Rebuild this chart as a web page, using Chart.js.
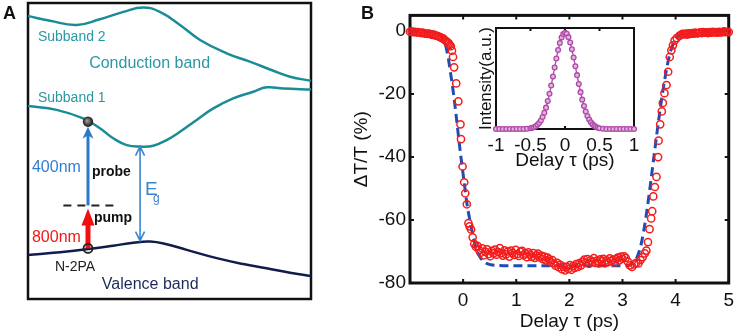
<!DOCTYPE html>
<html>
<head>
<meta charset="utf-8">
<script src="https://cdn.jsdelivr.net/npm/chart.js@4.4.1/dist/chart.umd.min.js"></script>
<style>
  html, body { margin: 0; padding: 0; background: #fff; }
  #wrap { position: relative; width: 740px; height: 335px; overflow: hidden; font-family: 'Liberation Sans', Arial, sans-serif; }
  canvas { position: absolute; }
  #band-chart { left: 0; top: 0; }
  #decay-chart { left: 330px; top: 0; }
  #pulse-chart { left: 470px; top: 20px; }
  .panel { position: absolute; font-weight: bold; font-size: 18px; color: #111; }
</style>
</head>
<body>
<div id="wrap">
  <canvas id="band-chart" width="330" height="335"></canvas>
  <canvas id="decay-chart" width="410" height="335"></canvas>
  <canvas id="pulse-chart" width="175" height="152"></canvas>
  <div class="panel" style="left:3px;top:3px">A</div>
  <div class="panel" style="left:361px;top:3px">B</div>
</div>
<script>
// ---- panel A : band diagram (arbitrary k / energy units 0..10)
const subband2X = [ 0, 0.78, 1.72, 2.54, 3.37, 4.07, 4.66, 5.37, 6.08, 7.02, 7.84, 8.67, 9.26, 10 ];
const subband2Y = [ 9.56, 9.4, 9.26, 9.45, 9.7, 9.85, 9.7, 9.26, 8.75, 8.3, 8.02, 7.71, 7.51, 7.37 ];
const subband1X = [ 0, 1.01, 1.95, 2.54, 3.01, 3.49, 3.96, 4.43, 4.9, 5.37, 5.96, 6.55, 7.25, 7.96, 8.43, 9.02, 10 ];
const subband1Y = [ 6.52, 6.39, 6.1, 5.77, 5.43, 5.2, 5.15, 5.18, 5.37, 5.65, 6.05, 6.44, 6.78, 7.0, 7.15, 7.11, 7.08 ];
const valenceX = [ 0, 1.13, 2.07, 3.01, 3.72, 4.31, 4.9, 5.61, 6.67, 7.61, 8.43, 9.26, 10 ];
const valenceY = [ 1.49, 1.58, 1.68, 1.8, 1.9, 1.94, 1.85, 1.66, 1.38, 1.18, 1.04, 0.89, 0.78 ];

// ---- panel B : transient transmission
const delayPs = [
  -1.00, -0.97, -0.94, -0.91, -0.88, -0.85, -0.82, -0.79, -0.76, -0.73,
  -0.70, -0.67, -0.64, -0.61, -0.58, -0.55, -0.52, -0.49, -0.46, -0.43,
  -0.40, -0.37, -0.34, -0.31, -0.29, -0.27, -0.25,
  -0.23, -0.21, -0.19, -0.17, -0.13, -0.09, -0.05, -0.04, -0.01, 0.02,
  0.04, 0.07, 0.10, 0.12, 0.15, 0.18, 0.21, 0.24,
  0.27, 0.30, 0.33, 0.36, 0.39, 0.42, 0.45, 0.48, 0.51, 0.54,
  0.57, 0.60, 0.63, 0.66, 0.69, 0.72, 0.75, 0.78, 0.81, 0.84,
  0.87, 0.90, 0.93, 0.96, 0.99, 1.02, 1.05, 1.08, 1.11, 1.14,
  1.17, 1.20, 1.23, 1.26, 1.29, 1.32, 1.35, 1.38, 1.41, 1.44,
  1.47, 1.50, 1.53, 1.56, 1.59, 1.62, 1.65, 1.68, 1.71, 1.74,
  1.77, 1.80, 1.83, 1.86, 1.89, 1.92, 1.95, 1.98, 2.01, 2.04,
  2.07, 2.10, 2.13, 2.16, 2.19, 2.22, 2.25, 2.28, 2.31, 2.34,
  2.37, 2.40, 2.43, 2.46, 2.49, 2.52, 2.55, 2.58, 2.61, 2.64,
  2.67, 2.70, 2.73, 2.76, 2.79, 2.82, 2.85, 2.88, 2.91, 2.94,
  2.97, 3.00, 3.03, 3.06,
  3.10, 3.14, 3.18, 3.22, 3.26, 3.30, 3.34, 3.38, 3.42, 3.45,
  3.48, 3.51, 3.54, 3.56, 3.58, 3.61, 3.64, 3.67, 3.68, 3.71,
  3.74, 3.76, 3.79, 3.83, 3.86, 3.89, 3.92, 3.95, 3.98, 4.02,
  4.07, 4.10, 4.13,
  4.16, 4.19, 4.22, 4.25, 4.28, 4.31, 4.34, 4.37, 4.40, 4.43,
  4.46, 4.49, 4.52, 4.55, 4.58, 4.61, 4.64, 4.67, 4.70, 4.73,
  4.76, 4.79, 4.82, 4.85, 4.88, 4.91, 4.94, 4.97, 5.00
];
const deltaTT = [
  -0.2, -0.1, -0.3, -0.2, -0.4, -0.3, -0.5, -0.6, -0.5, -0.7,
  -0.8, -0.9, -0.8, -1.0, -1.2, -1.1, -1.4, -1.5, -1.7, -1.9,
  -2.2, -2.4, -2.9, -3.3, -3.6, -3.9, -4.4,
  -4.8, -6.2, -8.2, -11.5, -16.6, -22.3, -29.6, -34.3, -43.0, -48.0,
  -51.5, -55.0, -61.0, -62.0, -63.0, -65.5, -67.6, -68.5,
  -68.2, -69.5, -70.4, -69.0, -71.2, -70.1, -69.3, -70.8, -71.5, -69.8,
  -70.6, -69.4, -71.0, -70.2, -68.9, -70.5, -71.3, -69.6, -70.9, -70.0,
  -71.6, -69.7, -70.4, -71.1, -69.5, -70.8, -71.4, -70.0, -69.8, -71.2,
  -70.6, -71.8, -70.3, -71.0, -71.7, -70.5, -72.0, -71.2, -70.7, -71.9,
  -71.3, -72.4, -71.6, -72.8, -71.9, -72.5, -73.4, -72.7, -73.8, -74.5,
  -73.6, -75.0, -74.2, -75.6, -74.8, -76.0, -74.9, -75.5, -74.3, -75.8,
  -74.6, -75.2, -74.0, -74.9, -73.7, -74.4, -73.2, -72.6, -73.5, -72.4,
  -73.9, -72.8, -73.3, -72.1, -73.6, -72.9, -73.8, -72.5, -73.1, -72.3,
  -73.7, -72.8, -73.4, -72.2, -73.0, -72.6, -73.5, -72.4, -71.9, -72.8,
  -71.6, -72.3, -71.5, -72.0,
  -73.2, -74.4, -74.9, -74.1, -73.6, -73.8, -72.7, -71.8, -70.6, -69.7,
  -67.0, -62.9, -59.5, -57.2, -52.5, -49.5, -46.3, -40.0, -34.8, -29.6,
  -25.5, -22.8, -19.7, -17.1, -12.9, -8.2, -6.1, -4.5, -3.0, -2.2,
  -1.5, -1.2, -0.9,
  -1.0, -0.8, -1.1, -0.7, -0.9, -0.6, -0.8, -0.5, -0.7, -0.6,
  -0.4, -0.6, -0.3, -0.5, -0.4, -0.6, -0.3, -0.5, -0.2, -0.4,
  -0.3, -0.5, -0.2, -0.4, -0.3, -0.1, -0.3, -0.2, -0.3
];
const fitX = [
  -1.0, -0.6, -0.45, -0.38, -0.33, -0.28, -0.23, -0.18, -0.13, -0.08,
  -0.03, 0.02, 0.07, 0.12, 0.17, 0.22, 0.28, 0.34, 0.42, 0.52,
  0.65, 1.0, 2.0, 3.0, 3.15, 3.22, 3.28, 3.34, 3.40, 3.46,
  3.52, 3.58, 3.64, 3.70, 3.76, 3.82, 3.88, 3.95, 4.05, 4.2,
  4.5, 5.0
];
const fitY = [
  0, -0.2, -1.0, -2.5, -4.5, -8.5, -14, -20, -27, -34.5,
  -41.5, -48, -54.5, -59.5, -63.8, -67.5, -70.5, -72.3, -73.6, -74.2,
  -74.4, -74.5, -74.5, -74.5, -74.2, -73.4, -71.6, -68.5, -63.5, -57,
  -49.5, -41.5, -33.5, -26, -19, -13, -8, -4.2, -1.6, -0.4,
  0, 0
];
const xTicksB = [ 0, 1, 2, 3, 4, 5 ];
const yTicksB = [ -80, -60, -40, -20, 0 ];

// ---- inset : pump pulse autocorrelation
const pulseX = [
  -1, -0.95, -0.9, -0.85, -0.8, -0.75, -0.7, -0.65, -0.6, -0.55,
  -0.5, -0.475, -0.45, -0.425, -0.4, -0.375, -0.35, -0.325, -0.3, -0.275,
  -0.25, -0.225, -0.2, -0.175, -0.15, -0.125, -0.1, -0.075, -0.05, -0.025,
  0,
  0.025, 0.05, 0.075, 0.1, 0.125, 0.15, 0.175, 0.2, 0.225, 0.25,
  0.275, 0.3, 0.325, 0.35, 0.375, 0.4, 0.425, 0.45, 0.475, 0.5,
  0.55, 0.6, 0.65, 0.7, 0.75, 0.8, 0.85, 0.9, 0.95, 1
];
const pulseY = [
  0, 0, 0, 0, 0, 0, 0, 0, 0, 0.002,
  0.008, 0.012, 0.018, 0.028, 0.043, 0.062, 0.088, 0.124, 0.168, 0.222,
  0.29, 0.366, 0.452, 0.545, 0.64, 0.733, 0.82, 0.893, 0.95, 0.987,
  1.0,
  0.99, 0.955, 0.9, 0.828, 0.744, 0.652, 0.56, 0.468, 0.383, 0.305,
  0.238, 0.182, 0.135, 0.098, 0.07, 0.048, 0.032, 0.021, 0.013, 0.008,
  0.003, 0, 0, 0, 0, 0, 0, 0, 0, 0
];
const xTicksInset = [ -1, -0.5, 0, 0.5, 1 ];

const FONT = "'Liberation Sans', Arial, sans-serif";
Chart.defaults.font.family = FONT;
Chart.defaults.color = '#111';

const pairs = ( xs, ys ) => xs.map( ( x, i ) => ( { x: x, y: ys[ i ] } ) );

// frame box + inward tick marks
const framePlugin = {
    id: 'frame',
    beforeDatasetsDraw( chart, args, opts ) {
        const a = chart.chartArea, ctx = chart.ctx;
        ctx.save();
        if ( opts.fill ) {
            ctx.fillStyle = opts.fill;
            ctx.fillRect( a.left, a.top, a.right - a.left, a.bottom - a.top );
        }
        ctx.strokeStyle = '#111';
        ctx.lineWidth = opts.width || 2;
        ctx.strokeRect( a.left, a.top, a.right - a.left, a.bottom - a.top );
        const len = opts.tick || 0;
        if ( len ) {
            ctx.lineWidth = 2;
            ctx.beginPath();
            if ( opts.xTicks ) {
                chart.scales.x.ticks.forEach( t => {
                    const p = chart.scales.x.getPixelForValue( t.value );
                    ctx.moveTo( p, a.bottom ); ctx.lineTo( p, a.bottom - len );
                    ctx.moveTo( p, a.top ); ctx.lineTo( p, a.top + len );
                });
            }
            if ( opts.yTicks ) {
                chart.scales.y.ticks.forEach( t => {
                    const p = chart.scales.y.getPixelForValue( t.value );
                    ctx.moveTo( a.left, p ); ctx.lineTo( a.left + len, p );
                    ctx.moveTo( a.right, p ); ctx.lineTo( a.right - len, p );
                });
            }
            ctx.stroke();
        }
        ctx.restore();
    }
};

// arrows and labels on the band diagram
const bandLabels = [
    { text: 'Subband 2', x: 0.35, y: 8.85, color: '#2a97a4', font: '14px' },
    { text: 'Conduction band', x: 2.16, y: 7.94, color: '#2a97a4', font: '16px' },
    { text: 'Subband 1', x: 0.35, y: 6.79, color: '#2a97a4', font: '14px' },
    { text: '400nm', x: 0.14, y: 4.43, color: '#2f7fd0', font: '16px' },
    { text: 'probe', x: 2.26, y: 4.29, color: '#111', font: 'bold 14px' },
    { text: 'pump', x: 2.33, y: 2.74, color: '#111', font: 'bold 14px' },
    { text: '800nm', x: 0.14, y: 2.09, color: '#f01818', font: '16px' },
    { text: 'N-2PA', x: 0.95, y: 1.08, color: '#222', font: '14px' },
    { text: 'Valence band', x: 2.61, y: 0.47, color: '#1c2a5c', font: '16px' },
    { text: 'E', x: 4.13, y: 3.68, color: '#3a86d0', font: '19px' },
    { text: 'g', x: 4.42, y: 3.4, color: '#3a86d0', font: '12px' }
];

const bandNotes = {
    id: 'bandNotes',
    afterDatasetsDraw( chart ) {
        const ctx = chart.ctx;
        const px = v => chart.scales.x.getPixelForValue( v );
        const py = v => chart.scales.y.getPixelForValue( v );
        ctx.save();
        const ax = px( 2.12 );
        // dashed virtual level
        ctx.strokeStyle = '#222';
        ctx.lineWidth = 2;
        ctx.setLineDash( [ 8, 6 ] );
        ctx.beginPath();
        ctx.moveTo( px( 1.25 ), py( 3.16 ) ); ctx.lineTo( px( 3.13 ), py( 3.16 ) );
        ctx.stroke();
        ctx.setLineDash( [] );
        // probe arrow (blue)
        ctx.strokeStyle = '#2a78c8';
        ctx.fillStyle = '#2a78c8';
        ctx.lineWidth = 3;
        ctx.beginPath();
        ctx.moveTo( ax, py( 3.16 ) ); ctx.lineTo( ax, py( 5.82 ) + 8 );
        ctx.stroke();
        ctx.beginPath();
        ctx.moveTo( ax, py( 5.82 ) ); ctx.lineTo( ax - 5.5, py( 5.82 ) + 12 );
        ctx.lineTo( ax, py( 5.82 ) + 8.5 ); ctx.lineTo( ax + 5.5, py( 5.82 ) + 12 );
        ctx.closePath(); ctx.fill();
        // pump arrow (red)
        ctx.strokeStyle = '#f01010';
        ctx.fillStyle = '#f01010';
        ctx.lineWidth = 5;
        ctx.beginPath();
        ctx.moveTo( ax, py( 1.71 ) ); ctx.lineTo( ax, py( 3.06 ) + 12 );
        ctx.stroke();
        ctx.beginPath();
        ctx.moveTo( ax, py( 3.06 ) ); ctx.lineTo( ax - 6.5, py( 3.06 ) + 17 );
        ctx.lineTo( ax + 6.5, py( 3.06 ) + 17 );
        ctx.closePath(); ctx.fill();
        // ground-state ring and excited carrier
        ctx.strokeStyle = '#222';
        ctx.lineWidth = 1.8;
        ctx.beginPath(); ctx.arc( ax, py( 1.71 ), 4.5, 0, Math.PI * 2 ); ctx.stroke();
        const g = ctx.createRadialGradient( ax - 1, py( 5.99 ) - 1, 0.5, ax, py( 5.99 ), 5.5 );
        g.addColorStop( 0, '#999' ); g.addColorStop( 0.6, '#444' ); g.addColorStop( 1, '#111' );
        ctx.fillStyle = g;
        ctx.beginPath(); ctx.arc( ax, py( 5.99 ), 5.2, 0, Math.PI * 2 ); ctx.fill();
        // band gap double arrow
        const ex = px( 3.96 ), eTop = py( 5.15 ), eBot = py( 1.97 );
        ctx.strokeStyle = '#3a86d0';
        ctx.lineWidth = 1.6;
        ctx.beginPath();
        ctx.moveTo( ex, eTop ); ctx.lineTo( ex, eBot );
        ctx.moveTo( ex - 4.5, eTop + 9 ); ctx.lineTo( ex, eTop ); ctx.lineTo( ex + 4.5, eTop + 9 );
        ctx.moveTo( ex - 4.5, eBot - 9 ); ctx.lineTo( ex, eBot ); ctx.lineTo( ex + 4.5, eBot - 9 );
        ctx.stroke();
        // text
        ctx.textAlign = 'left';
        ctx.textBaseline = 'middle';
        bandLabels.forEach( l => {
            ctx.font = l.font + ' ' + FONT;
            ctx.fillStyle = l.color;
            ctx.fillText( l.text, px( l.x ), py( l.y ) );
        });
        ctx.restore();
    }
};

window.addEventListener( 'load', function () {
    //
    const bandLine = ( xs, ys, color ) => ({
        data: pairs( xs, ys ),
        showLine: true,
        borderColor: color,
        borderWidth: 2.5,
        pointRadius: 0,
        tension: 0.45
    });
    new Chart( document.querySelector( '#band-chart' ), {
        type: 'scatter',
        data: {
            datasets: [
                bandLine( subband2X, subband2Y, '#1a8c97' ),
                bandLine( subband1X, subband1Y, '#1a8c97' ),
                bandLine( valenceX, valenceY, '#101c4c' )
            ]
        },
        options: {
            responsive: false,
            devicePixelRatio: 1,
            animation: false,
            layout: { padding: { left: 28, top: 3, right: 19, bottom: 36 } },
            scales: {
                x: { type: 'linear', min: 0, max: 10, display: false },
                y: { type: 'linear', min: 0, max: 10, display: false }
            },
            plugins: {
                legend: { display: false },
                tooltip: { enabled: false },
                frame: { width: 2.5 }
            }
        },
        plugins: [ framePlugin, bandNotes ]
    });
    //
    new Chart( document.querySelector( '#decay-chart' ), {
        type: 'scatter',
        data: {
            datasets: [
                {
                    data: pairs( delayPs, deltaTT ),
                    pointStyle: 'circle',
                    pointRadius: 3.6,
                    pointBorderWidth: 1.5,
                    borderColor: '#f41c1c',
                    backgroundColor: 'rgba(0,0,0,0)',
                    clip: false
                },
                {
                    data: pairs( fitX, fitY ),
                    showLine: true,
                    pointRadius: 0,
                    borderColor: '#1f4db5',
                    borderWidth: 3,
                    borderDash: [ 9, 5 ],
                    cubicInterpolationMode: 'monotone'
                }
            ]
        },
        options: {
            responsive: false,
            devicePixelRatio: 1,
            animation: false,
            layout: { padding: { left: 0, top: 11, right: 9, bottom: 0 } },
            scales: {
                x: {
                    type: 'linear', min: -1, max: 5,
                    grid: { display: false, drawTicks: false },
                    border: { display: false },
                    afterBuildTicks: s => { s.ticks = xTicksB.map( v => ({ value: v }) ); },
                    afterFit: s => { s.height = 52; },
                    ticks: { padding: 6, autoSkip: false, maxRotation: 0, font: { size: 19 }, callback: v => String( v ) },
                    title: { display: true, text: 'Delay τ (ps)', font: { size: 19 }, padding: { top: 0, bottom: 2 } }
                },
                y: {
                    type: 'linear', min: -80, max: 5,
                    grid: { display: false, drawTicks: false },
                    border: { display: false },
                    afterBuildTicks: s => { s.ticks = yTicksB.map( v => ({ value: v }) ); },
                    afterFit: s => { s.width = 80; },
                    ticks: { padding: 4, autoSkip: false, font: { size: 19 }, callback: v => String( v ) },
                    title: { display: true, text: 'ΔT/T (%)', font: { size: 19 }, padding: { top: 20, bottom: 0 } }
                }
            },
            plugins: {
                legend: { display: false },
                tooltip: { enabled: false },
                frame: { width: 3, tick: 4, xTicks: true, yTicks: true }
            }
        },
        plugins: [ framePlugin ]
    });
    //
    new Chart( document.querySelector( '#pulse-chart' ), {
        type: 'scatter',
        data: {
            datasets: [
                {
                    data: pairs( pulseX, pulseY ),
                    showLine: true,
                    borderColor: '#b04aa9',
                    borderWidth: 1.3,
                    pointRadius: 2.4,
                    pointBorderWidth: 1.3,
                    pointBorderColor: '#b04aa9',
                    pointBackgroundColor: '#e2b3dc',
                    clip: false
                }
            ]
        },
        options: {
            responsive: false,
            devicePixelRatio: 1,
            animation: false,
            layout: { padding: { left: 0, top: 8, right: 11, bottom: 0 } },
            scales: {
                x: {
                    type: 'linear', min: -1, max: 1,
                    grid: { display: false, drawTicks: false },
                    border: { display: false },
                    afterBuildTicks: s => { s.ticks = xTicksInset.map( v => ({ value: v }) ); },
                    afterFit: s => { s.height = 43; },
                    ticks: { padding: 5, autoSkip: false, maxRotation: 0, font: { size: 19 }, callback: v => String( v ) },
                    title: { display: true, text: 'Delay τ (ps)', font: { size: 19 }, padding: { top: 0, bottom: 0 } }
                },
                y: {
                    type: 'linear', min: 0, max: 1.05,
                    grid: { display: false, drawTicks: false },
                    border: { display: false },
                    ticks: { display: false },
                    afterFit: s => { s.width = 26; },
                    title: { display: true, text: 'Intensity(a.u.)', font: { size: 17 }, padding: { top: 6, bottom: 0 } }
                }
            },
            plugins: {
                legend: { display: false },
                tooltip: { enabled: false },
                frame: { width: 2, fill: '#fff', tick: 3, xTicks: true }
            }
        },
        plugins: [ framePlugin ]
    });
    //
}, false );
</script>
</body>
</html>
